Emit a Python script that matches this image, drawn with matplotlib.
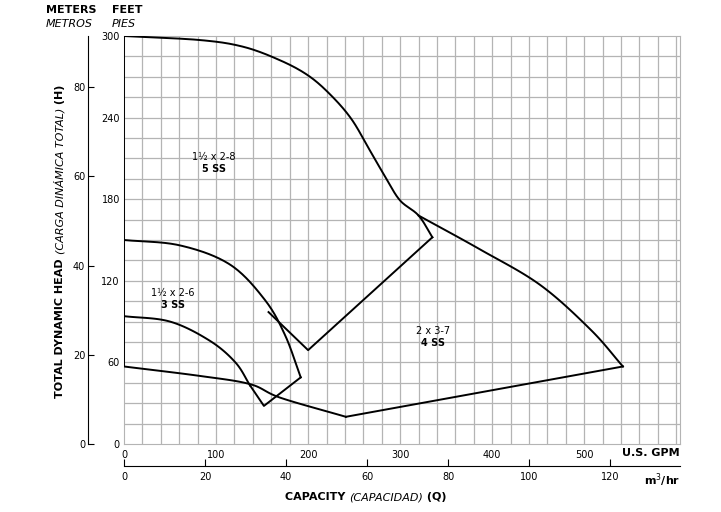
import matplotlib
matplotlib.use("Agg")
import matplotlib.pyplot as plt
import numpy as np

# data (GPM, feet)
curve_5ss_top_x = [0, 83, 130, 170, 200, 224, 247, 267, 285, 300, 320, 335]
curve_5ss_top_y = [300, 297, 292, 282, 271, 257, 239, 216, 195, 179, 168, 152]
line_5ss_close_x = [335, 200, 157]
line_5ss_close_y = [152, 69, 97]
curve_4ss_top_x = [320, 387, 452, 507, 542]
curve_4ss_top_y = [168, 143, 117, 84, 57]
line_4ss_bottom_x = [542, 241]
line_4ss_bottom_y = [57, 20]
curve_3ss_top_x = [0, 61, 115, 153, 175, 192]
curve_3ss_top_y = [150, 146, 132, 106, 80, 49]
line_3ss_v_x = [192, 152, 137]
line_3ss_v_y = [49, 28, 43]
curve_3ss_mid_x = [0, 50, 93, 121, 137]
curve_3ss_mid_y = [94, 90, 76, 60, 43]
curve_bottom_x = [0, 83, 137, 170, 241]
curve_bottom_y = [57, 50, 44, 34, 20]

def smooth(xs, ys, n=30):
    P = np.column_stack([xs, ys]).astype(float)
    P = np.vstack([2*P[0]-P[1], P, 2*P[-1]-P[-2]])
    out = []
    for i in range(1, len(P)-2):
        p0, p1, p2, p3 = P[i-1], P[i], P[i+1], P[i+2]
        t = np.linspace(0, 1, n)[:, None]
        out.append(0.5*((2*p1) + (-p0+p2)*t + (2*p0-5*p1+4*p2-p3)*t**2 + (-p0+3*p1-3*p2+p3)*t**3))
    o = np.vstack(out)
    return o[:, 0], o[:, 1]

W, H = 721, 512
fig = plt.figure(figsize=(W/100, H/100), dpi=100)
L, R, B, T = 124, 680, 444, 36
ax = fig.add_axes([L/W, 1-B/H, (R-L)/W, (B-T)/H])
ax.set_xlim(0, 604)
ax.set_ylim(0, 300)
gc = "#b4b4b4"
for x in np.arange(20, 604, 20):
    ax.axvline(x, color=gc, lw=0.9, zorder=0)
for y in np.arange(15, 300, 15):
    ax.axhline(y, color=gc, lw=0.9, zorder=0)
for s in ["top", "right", "left", "bottom"]:
    ax.spines[s].set_color(gc)

k = dict(color="black", lw=1.4, zorder=3)
ax.plot(*smooth(curve_5ss_top_x, curve_5ss_top_y), **k)
ax.plot(line_5ss_close_x, line_5ss_close_y, **k)
ax.plot([0, 0], [300, 57], **k)
ax.plot(*smooth(curve_4ss_top_x, curve_4ss_top_y), **k)
ax.plot(line_4ss_bottom_x, line_4ss_bottom_y, **k)
ax.plot(*smooth(curve_3ss_top_x, curve_3ss_top_y), **k)
ax.plot(line_3ss_v_x, line_3ss_v_y, **k)
ax.plot(*smooth(curve_3ss_mid_x, curve_3ss_mid_y), **k)
ax.plot(*smooth(curve_bottom_x, curve_bottom_y), **k)

ax.text(98, 209, "1½ x 2-8", ha="center", fontsize=7)
ax.text(98, 200, "5 SS", ha="center", fontsize=7, fontweight="bold")
ax.text(53, 109, "1½ x 2-6", ha="center", fontsize=7)
ax.text(53, 100, "3 SS", ha="center", fontsize=7, fontweight="bold")
ax.text(336, 81, "2 x 3-7", ha="center", fontsize=7)
ax.text(336, 72, "4 SS", ha="center", fontsize=7, fontweight="bold")

ax.set_yticks([0, 60, 120, 180, 240, 300])
ax.tick_params(axis="y", length=0, labelsize=7, pad=3)
ax.set_xticks([0, 100, 200, 300, 400, 500])
ax.tick_params(axis="x", length=0, labelsize=7, pad=4)

axm = ax.twinx()
axm.yaxis.set_ticks_position("left")
axm.spines["left"].set_position(("outward", 36*0.72))
axm.spines["left"].set_color("black")
for s in ["top", "right", "bottom"]:
    axm.spines[s].set_visible(False)
axm.set_ylim(0, 300/3.2808)
axm.set_yticks([0, 20, 40, 60, 80])
axm.tick_params(axis="y", labelsize=7, length=4, direction="in", pad=2)

axq = ax.twiny()
axq.xaxis.set_ticks_position("bottom")
axq.spines["bottom"].set_position(("outward", 22*0.72))
axq.spines["bottom"].set_color("black")
for s in ["top", "right", "left"]:
    axq.spines[s].set_visible(False)
axq.set_xlim(0, 604/4.403)
axq.set_xticks([0, 20, 40, 60, 80, 100, 120])
axq.tick_params(axis="x", labelsize=7, length=5, direction="in", pad=4)

fig.text(680/W, 1-453/H, "U.S. GPM", ha="right", va="center", fontsize=8, fontweight="bold")
fig.text(680/W, 1-480/H, "m$^3$/hr", ha="right", va="center", fontsize=8, fontweight="bold")

fig.canvas.draw()
rend = fig.canvas.get_renderer()
def chain(parts, x0, y0, rot):
    pos = x0
    for s, kw in parts:
        if rot:
            t = fig.text(60/W, pos/H, s, rotation=90, ha="center", va="bottom", fontsize=8, **kw)
            pos += t.get_window_extent(rend).height
        else:
            t = fig.text(pos/W, y0, s, ha="left", va="center", fontsize=8, **kw)
            pos += t.get_window_extent(rend).width
    return pos
parts_x = [("CAPACITY ", dict(fontweight="bold")), ("(CAPACIDAD)", dict(style="italic")), (" (Q)", dict(fontweight="bold"))]
wtot = sum(fig.text(0, 0, s, fontsize=8, **kw).get_window_extent(rend).width for s, kw in parts_x)
for t in fig.texts[-3:]:
    t.remove()
chain(parts_x, 366 - wtot/2, 1-497/H, False)
parts_y = [("TOTAL DYNAMIC HEAD ", dict(fontweight="bold")), ("(CARGA DINÁMICA TOTAL)", dict(style="italic")), (" (H)", dict(fontweight="bold"))]
htot = sum(fig.text(0, 0, s, rotation=90, fontsize=8, **kw).get_window_extent(rend).height for s, kw in parts_y)
for t in fig.texts[-3:]:
    t.remove()
chain(parts_y, (512-241) - htot/2, None, True)

fig.text(46/W, 1-10/H, "METERS", ha="left", va="center", fontsize=8, fontweight="bold")
fig.text(112/W, 1-10/H, "FEET", ha="left", va="center", fontsize=8, fontweight="bold")
fig.text(46/W, 1-24/H, "METROS", ha="left", va="center", fontsize=8, style="italic")
fig.text(112/W, 1-24/H, "PIES", ha="left", va="center", fontsize=8, style="italic")

fig.savefig("out.png", dpi=100)
